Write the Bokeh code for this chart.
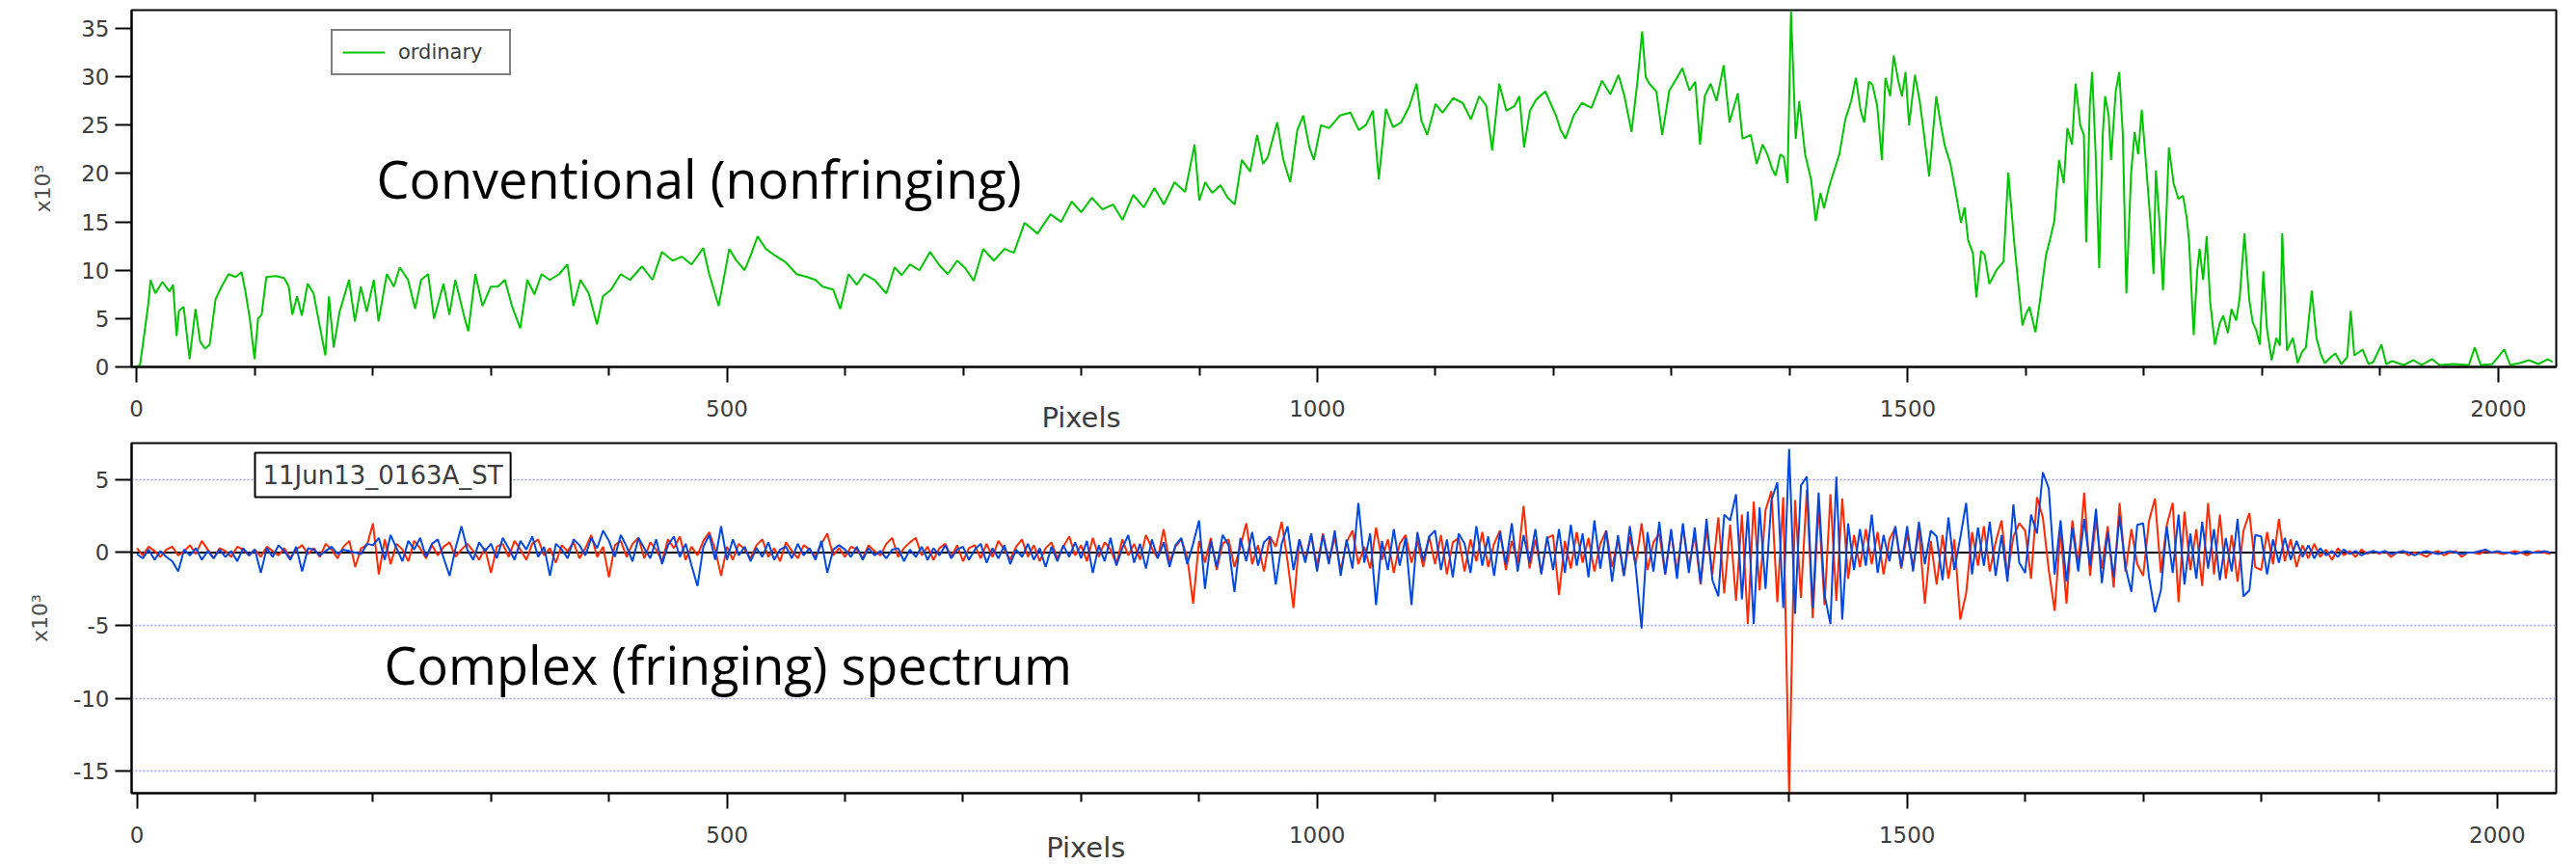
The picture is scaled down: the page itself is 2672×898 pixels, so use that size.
from bokeh.plotting import figure
from bokeh.models import Range1d, FixedTicker, Span, Label, Legend, LegendItem, LinearAxis
from bokeh.layouts import column
from bokeh.embed import file_html
from bokeh.resources import INLINE

# ---------------- data: top panel (ordinary spectrum, x10^3) ----------------
pixels_ordinary = [
    0, 3, 6, 10, 12, 16, 22, 28, 31, 34,
    36, 40, 45, 50, 54, 58, 62, 67, 72, 78,
    84, 89, 92, 96, 100, 103, 106, 110, 118, 125,
    129, 132, 136, 140, 145, 150, 154, 160, 163, 167,
    172, 180, 185, 190, 195, 201, 205, 212, 218, 223,
    230, 236, 241, 247, 252, 260, 265, 270, 278, 281,
    287, 293, 300, 306, 312, 318, 325, 331, 337, 343,
    350, 358, 365, 370, 376, 383, 390, 395, 402, 410,
    418, 428, 437, 445, 454, 462, 470, 480, 485, 493,
    502, 508, 515, 520, 526, 533, 541, 550, 559, 568,
    575, 581, 590, 596, 603, 610, 616, 625, 635, 642,
    648, 655, 663, 672, 680, 687, 695, 702, 709, 717,
    726, 735, 743, 752, 763, 774, 783, 792, 800, 809,
    818, 827, 835, 844, 853, 862, 870, 879, 888, 896,
    900, 905, 911, 918, 924, 930, 936, 943, 949, 954,
    958, 962, 966, 971, 977, 983, 988, 993, 997, 1003,
    1010, 1019, 1028, 1035, 1041, 1047, 1052, 1058, 1064, 1071,
    1078, 1084, 1088, 1093, 1100, 1106, 1115, 1123, 1130, 1137,
    1143, 1148, 1154, 1160, 1167, 1171, 1175, 1180, 1185, 1193,
    1202, 1206, 1210, 1217, 1224, 1232, 1241, 1248, 1255, 1260,
    1266, 1271, 1275, 1278, 1281, 1287, 1292, 1298, 1304, 1309,
    1315, 1320, 1324, 1328, 1333, 1338, 1344, 1349, 1356, 1360,
    1367, 1372, 1377, 1381, 1385, 1388, 1392, 1395, 1398, 1401,
    1405, 1408, 1413, 1418, 1422, 1426, 1429, 1433, 1436, 1442,
    1447, 1452, 1456, 1460, 1463, 1467, 1470, 1474, 1478, 1481,
    1485, 1488, 1492, 1495, 1498, 1501, 1506, 1510, 1513, 1518,
    1524, 1528, 1531, 1536, 1540, 1545, 1548, 1551, 1555, 1558,
    1562, 1565, 1569, 1575, 1581, 1585, 1590, 1594, 1597, 1600,
    1603, 1608, 1612, 1617, 1620, 1624, 1628, 1632, 1635, 1639,
    1642, 1646, 1649, 1651, 1654, 1656, 1659, 1662, 1665, 1667,
    1670, 1672, 1676, 1679, 1682, 1685, 1689, 1692, 1695, 1698,
    1701, 1703, 1706, 1708, 1710, 1713, 1716, 1719, 1721, 1725,
    1729, 1733, 1736, 1738, 1742, 1745, 1747, 1750, 1753, 1756,
    1760, 1764, 1767, 1771, 1774, 1778, 1781, 1785, 1789, 1792,
    1795, 1798, 1801, 1804, 1808, 1812, 1815, 1817, 1821, 1826,
    1830, 1834, 1837, 1842, 1846, 1850, 1853, 1858, 1862, 1867,
    1872, 1875, 1878, 1885, 1890, 1894, 1901, 1905, 1910, 1920,
    1928, 1935, 1944, 1950, 1962, 1975, 1980, 1985, 1995, 2005,
    2010, 2018, 2026, 2034, 2042, 2046,
]
ordinary = [
    0, 0.2, 2.8, 6.5, 9.0, 7.6, 8.8, 7.8, 8.5, 3.2,
    5.8, 6.2, 0.8, 6.0, 2.6, 1.9, 2.3, 7.0, 8.3, 9.6,
    9.3, 9.8, 8.0, 5.0, 0.8, 5.0, 5.4, 9.3, 9.4, 9.2,
    8.3, 5.4, 7.3, 5.3, 8.6, 7.6, 5.0, 1.2, 7.3, 2.0,
    5.7, 9.0, 4.7, 8.3, 5.7, 9.0, 4.7, 9.6, 8.3, 10.3,
    9.0, 6.0, 9.0, 9.6, 5.0, 8.6, 5.4, 9.0, 5.0, 3.7,
    9.6, 6.3, 8.3, 8.3, 9.0, 6.3, 4.0, 9.0, 7.5, 9.6,
    9.0, 9.6, 10.6, 6.3, 9.0, 7.6, 4.4, 7.3, 8.0, 9.6,
    9.0, 10.4, 9.0, 11.9, 11.0, 11.4, 10.6, 12.3, 9.6, 6.3,
    12.2, 11.0, 10.0, 11.5, 13.5, 12.2, 11.5, 10.8, 9.6, 9.3,
    9.0, 8.3, 8.0, 6.0, 9.6, 8.5, 9.6, 9.0, 7.6, 10.3,
    9.5, 10.6, 10.0, 11.9, 10.5, 9.6, 11.0, 10.2, 8.9, 12.2,
    11.0, 12.2, 11.8, 14.9, 13.8, 15.8, 15.0, 17.1, 16.0, 17.5,
    16.3, 16.8, 15.2, 17.8, 16.5, 18.5, 16.8, 19.1, 18.1, 23.0,
    17.2, 19.1, 18.0, 18.8, 17.5, 16.8, 21.4, 20.2, 24.0, 21.0,
    21.7, 23.5, 25.3, 21.5, 19.1, 24.5, 26.0, 22.8, 21.4, 25.0,
    24.7, 26.0, 26.3, 24.5, 25.0, 26.5, 19.4, 26.7, 24.8, 25.3,
    27.0, 29.3, 25.5, 24.0, 27.2, 26.3, 27.8, 27.3, 25.6, 28.0,
    27.0, 22.4, 29.3, 26.5, 27.0, 28.0, 22.7, 26.5, 27.6, 28.5,
    26.0, 24.5, 23.6, 26.0, 27.3, 26.8, 29.6, 28.2, 30.2, 28.0,
    24.3, 29.5, 34.7, 30.0, 29.3, 28.5, 24.0, 28.6, 29.8, 30.9,
    28.6, 29.5, 23.0, 28.0, 29.3, 27.5, 31.2, 25.3, 28.3, 23.6,
    24.0, 21.0, 23.0, 22.0, 20.5, 19.8, 22.0, 21.7, 19.0, 36.8,
    23.6, 27.5, 22.0, 19.4, 15.1, 18.0, 16.4, 18.5, 19.7, 22.0,
    25.6, 27.5, 29.9, 26.5, 25.3, 29.5, 29.2, 27.0, 21.4, 29.9,
    28.0, 32.2, 29.5, 28.0, 30.5, 25.0, 30.2, 27.5, 24.7, 19.7,
    28.0, 25.0, 23.0, 21.0, 18.4, 14.9, 16.5, 13.1, 11.8, 7.2,
    12.0, 11.6, 8.6, 10.0, 10.9, 20.1, 12.9, 8.0, 4.3, 5.5,
    6.2, 3.6, 7.0, 11.6, 13.0, 15.1, 21.4, 19.0, 24.7, 23.0,
    29.3, 25.0, 24.0, 12.9, 27.0, 30.5, 22.0, 10.2, 24.0, 28.0,
    26.0, 21.4, 28.5, 30.5, 24.0, 7.6, 20.0, 24.3, 22.0, 26.6,
    22.0, 18.8, 14.0, 9.6, 20.3, 15.0, 7.9, 16.0, 22.7, 19.0,
    17.4, 17.7, 15.5, 13.2, 3.3, 10.0, 12.2, 9.0, 13.5, 6.7,
    2.3, 4.5, 5.3, 3.5, 6.0, 4.8, 7.2, 13.8, 7.0, 4.6,
    3.8, 2.3, 9.9, 4.0, 0.7, 3.0, 2.2, 13.8, 1.7, 3.0,
    0.4, 1.6, 2.0, 7.9, 3.0, 1.2, 0.4, 1.0, 1.4, 0.3,
    1.0, 5.8, 1.2, 1.8, 0.3, 0.5, 2.3, 0.3, 0.6, 0.2,
    0.7, 0.2, 0.8, 0.2, 0.3, 0.2, 2.0, 0.2, 0.3, 1.8,
    0.2, 0.4, 0.7, 0.3, 0.8, 0.5,
]

# ---------------- data: bottom panel (complex spectrum, x10^3) --------------
pixels_complex = list(range(0, 2050, 5))
real_part = [
    0.3, -0.2, 0.4, 0.1, -0.3, 0.2, 0.4, -0.2, 0.1, 0.5, -0.1, 0.8, 0.2, -0.4, 0.3, 0.1, -0.3, 0.4, 0.2, -0.2,
    0.2, -0.3, 0.4, 0.1, -0.2, 0.3, -0.4, 0.2, 0.5, -0.1, 0.3, -0.3, 0.6, 0.2, -0.4, 0.4, 0.8, -1.0, 0.3, 0.5,
    2.0, -1.5, 0.9, -0.8, 0.6, 0.2, -0.6, 0.8, 0.3, -0.4, 0.5, -0.2, 0.4, 0.7, -0.3, 0.2, 0.6, 0.1, -0.5, 0.3,
    -1.4, 0.4, 0.6, -0.3, 0.8, 0.2, -0.5, 0.6, 0.9, -0.2, 0.3, -0.7, 0.5, 0.1, 0.7, -0.4, 0.3, 1.2, -0.3, 0.4,
    -1.7, 0.5, 0.8, -0.3, 0.6, 1.0, -0.4, 0.7, 0.2, -0.6, 0.9, 0.3, 1.1, -0.5, 0.4, -0.2, 0.8, 1.4, 0.2, -1.6,
    0.4, -0.5, 0.6, 0.2, -0.4, 0.5, 0.9, -0.3, 0.3, -0.6, 0.7, 0.1, -0.4, 0.5, 0.2, -0.3, 0.6, 1.3, -0.2, 0.3,
    -0.3, 0.4, 0.2, -0.4, 0.5, 0.1, -0.2, 0.6, 1.0, -0.3, 0.3, 0.7, 1.0, -0.2, 0.4, -0.5, 0.3, 0.6, -0.3, 0.5,
    -0.6, 0.3, 0.5, -0.4, 0.6, -0.3, 0.8, 0.2, -0.5, 0.4, 0.9, -0.3, 0.5, -0.6, 0.3, 0.7, -0.4, 0.4, 1.1, -0.2,
    0.5, -0.6, 1.0, -0.3, 0.7, 0.2, -0.8, 0.9, -0.2, 0.6, -0.5, 1.2, 0.3, -0.4, 1.6, -0.7, 0.4, 0.9, -0.3, -3.5,
    0.8, -0.7, 1.0, -1.2, 0.6, 0.9, -1.0, 0.4, 2.0, -0.8, 0.5, -1.3, 1.1, 0.4, 2.1, -0.6, -3.8, 0.9, -0.5, 1.2,
    -0.9, 1.3, -0.6, 1.0, -1.2, 0.7, 1.5, -0.8, 0.4, -1.1, 1.7, -0.5, 0.9, -1.4, 0.6, 1.2, -0.7, 0.8, -1.0, 1.1,
    -0.8, 1.2, -1.5, 0.7, 1.0, -1.3, 0.9, -0.6, 1.4, -1.0, 0.6, 1.5, -1.2, 0.8, -0.7, 3.2, -1.1, 0.9, -1.4, 1.0,
    1.2, -2.9, 0.8, -1.1, 1.4, -0.7, 1.0, -1.3, 0.6, 1.5, -1.0, 0.9, -1.6, 1.1, -0.8, 2.0, -1.2, 0.7, 1.3, -1.5,
    1.4, -1.3, 1.8, -1.0, 1.2, -2.2, 1.6, -1.5, 2.4, -2.8, 1.9, -3.3, 2.6, -4.9, 3.5, -2.6, 2.9, 4.2, -3.4, 3.8,
    -16.6, 3.6, -3.1, 4.3, -4.5, 3.2, -3.6, 4.0, -3.3, 3.7, -1.8, 1.2, -1.0, 1.6, -0.8, 1.4, -1.5, 0.9, 1.7, -1.1,
    1.3, -1.0, 1.6, -3.5, 0.8, -2.2, 1.2, -1.8, 0.9, -4.6, -2.8, 1.4, -0.9, 1.8, -1.3, 0.7, 2.2, -1.6, 1.1, 2.0,
    1.5, -1.8, 3.8, 2.4, -1.2, -4.0, 1.6, -3.5, 2.2, -0.9, 4.1, -1.6, 2.3, -1.1, 1.8, -2.4, 3.4, -1.3, 1.6, -0.8,
    -1.6, 2.2, 3.7, -1.4, 1.9, 3.4, -3.4, 2.8, -1.2, 1.6, -2.3, 3.4, -1.5, 2.6, -1.8, 1.2, -2.0, 1.5, 2.7, -1.0,
    -1.2, 1.4, -0.8, 2.3, -0.6, 0.9, -1.0, 0.5, -0.4, 0.6, -0.3, 0.2, -0.5, 0.3, -0.2, 0.1, -0.3, 0.2, -0.1, 0.1,
    -0.1, 0.1, -0.3, 0.0, 0.1, -0.2, 0.0, -0.1, -0.3, 0.0, 0.1, -0.2, 0.0, 0.1, -0.3, 0.0, 0.0, -0.1, 0.1, 0.0,
    0.0, -0.1, 0.0, 0.1, 0.0, -0.2, 0.0, 0.1, 0.0, -0.1,
]
imag_part = [
    -0.1, -0.4, 0.2, -0.5, 0.1, -0.3, -0.6, -1.3, 0.2, -0.2, 0.3, -0.5, 0.1, -0.4, 0.2, -0.3, 0.1, -0.6, 0.3, -0.2,
    0.2, -1.4, 0.3, -0.3, 0.5, 0.1, -0.5, 0.4, -1.3, 0.3, 0.2, -0.2, 0.1, 0.4, -0.1, 0.2, 0.1, 0.0, -0.1, 0.6,
    0.5, 1.0, -0.5, 1.2, 0.3, -0.6, 0.8, 0.2, 1.0, -0.3, 0.6, 0.9, -0.4, -1.6, 0.3, 1.8, 0.2, -0.5, 0.7, 0.1,
    0.6, -0.4, 1.0, 0.3, -0.5, 0.8, 0.2, 1.1, -0.3, 0.4, -1.6, 0.6, 0.2, -0.4, 0.9, 0.5, -0.2, 1.0, 0.3, 1.5,
    0.8, -0.3, 1.2, 0.4, -0.6, 1.0, 0.3, -0.4, 0.9, -0.8, 0.5, 1.1, -0.3, 0.6, -0.9, -2.3, 0.4, 1.2, -0.5, 1.8,
    -0.5, 0.9, -0.2, 0.4, -0.6, 0.3, -0.3, 0.7, -0.5, 0.2, 0.4, -0.4, 0.6, -0.2, 0.3, -0.5, 0.8, -1.4, 0.2, 0.5,
    0.2, -0.3, 0.4, -0.5, 0.3, -0.2, 0.1, -0.4, 0.2, 0.3, -0.6, 0.2, -0.3, 0.4, -0.5, 0.3, -0.2, 0.5, -0.4, 0.2,
    0.4, -0.5, 0.2, 0.6, -0.7, 0.3, -0.4, 0.5, -0.8, 0.2, -0.3, 0.6, -0.5, 0.3, -1.0, 0.4, -0.6, 0.5, -0.3, 0.7,
    -0.4, 0.8, -1.4, 0.5, -0.6, 1.0, -0.9, 0.3, 1.2, -0.7, 0.6, -1.1, 0.9, -0.4, 0.7, -1.0, 0.5, 1.0, -0.8, 0.6,
    2.2, -2.5, 0.8, -1.0, 1.2, 0.5, -2.7, 1.0, -0.6, 1.4, -0.9, 0.7, 1.1, -2.2, 0.6, 1.8, -1.2, 0.9, -0.7, 1.3,
    -1.3, 1.2, -0.8, 1.5, -1.6, 0.9, -1.1, 3.4, -0.7, 1.3, -3.6, 0.8, -1.2, 1.6, -0.9, 1.0, -3.6, 1.4, -0.6, 1.1,
    1.5, -1.2, 0.9, -1.7, 1.3, 0.6, -1.4, 1.8, -0.9, 1.1, -1.6, 1.4, -0.8, 2.0, -1.3, 1.2, -0.7, 1.6, -1.5, 1.1,
    -1.2, 1.6, -1.4, 1.9, -0.9, 1.3, -1.7, 2.2, -1.1, 1.5, -2.0, 1.2, -1.6, 1.8, -1.0, -5.2, 1.4, -1.3, 2.1, -1.5,
    1.6, -1.8, 2.0, -1.4, 1.7, -2.1, 2.3, -1.9, -3.0, 2.6, 2.2, 4.0, -3.2, 2.8, -4.9, 3.1, -2.5, 3.6, 4.8, -3.8,
    7.1, -4.2, 4.6, 5.2, -3.8, 4.1, -2.9, -4.9, 5.2, -4.6, 2.0, -1.2, 1.6, -0.9, 2.6, -1.4, 1.2, -0.6, 1.8, -1.0,
    1.8, -1.3, 2.1, -0.8, 1.5, 1.1, -1.9, 2.4, -1.2, 1.0, 3.4, -1.5, 1.7, -0.9, 2.1, -1.6, 1.2, -2.0, 3.3, -0.7,
    -1.4, 2.6, 1.3, 5.5, 4.4, -1.5, 2.2, -2.0, 1.7, -1.3, 2.3, -0.9, 3.0, -2.1, 1.4, -1.7, 2.5, -1.0, -2.7, 1.9,
    2.0, -1.7, -4.1, -2.6, 1.8, -1.4, 2.6, -2.2, 1.3, -1.8, 2.1, -1.1, 1.6, -1.9, 1.0, -1.3, 2.3, -3.0, -2.6, 1.2,
    1.1, -1.5, 0.9, -0.7, 1.0, -0.5, 0.8, -0.3, 0.5, -0.4, 0.3, -0.2, 0.1, -0.3, 0.2, -0.1, 0.1, -0.2, 0.0, 0.1,
    0.0, 0.1, -0.1, 0.0, 0.1, 0.0, -0.2, 0.0, 0.1, 0.0, -0.1, 0.0, 0.1, 0.0, -0.1, 0.0, 0.0, 0.1, 0.2, 0.0,
    0.1, 0.0, 0.0, -0.1, 0.0, 0.1, 0.0, 0.0, 0.1, 0.0,
]

x_major_ticks = [0, 500, 1000, 1500, 2000]
x_minor_ticks = [100, 200, 300, 400, 600, 700, 800, 900, 1100, 1200, 1300, 1400,
                 1600, 1700, 1800, 1900, 2100]
top_y_ticks = [0, 5, 10, 15, 20, 25, 30, 35]
bottom_y_ticks = [-15, -10, -5, 0, 5]
bottom_y_labels = {-15: "-15", -10: "-10", -5: "-5"}
top_title_tick = 800
bottom_title_tick = 804

assert len(pixels_ordinary) == len(ordinary)
assert len(pixels_complex) == len(real_part) == len(imag_part)

TICK_FONT = "DejaVu Sans"
BIG_FONT = "Open Sans"
GRAY = "#3c3c3c"


def style(p, yticks, ylabel, ylabel_standoff, title_tick, title_standoff):
    p.outline_line_color = "black"
    p.outline_line_width = 2
    p.xgrid.visible = False
    xa = p.xaxis[0]
    ya = p.yaxis[0]
    xa.ticker = FixedTicker(ticks=x_major_ticks, minor_ticks=x_minor_ticks)
    ya.ticker = FixedTicker(ticks=yticks, minor_ticks=[])
    for ax in (xa, ya):
        ax.axis_line_color = "black"
        ax.axis_line_width = 2
        ax.major_tick_line_color = "black"
        ax.major_tick_line_width = 2
        ax.minor_tick_line_color = "black"
        ax.minor_tick_line_width = 2
        ax.major_tick_in = 0
        ax.minor_tick_in = 0
        ax.major_label_text_font = TICK_FONT
        ax.major_label_text_font_size = "23px"
        ax.major_label_text_color = GRAY
    xa.major_tick_out = 16
    xa.minor_tick_out = 9
    xa.major_label_standoff = 18
    ya.major_tick_out = 17
    ya.minor_tick_out = 0
    ya.major_label_standoff = 6
    ya.axis_label = ylabel
    ya.axis_label_text_font = TICK_FONT
    ya.axis_label_text_font_size = "22px"
    ya.axis_label_text_font_style = "normal"
    ya.axis_label_text_color = "#505050"
    ya.axis_label_standoff = ylabel_standoff
    # "Pixels" title, written as the single label of a bare secondary axis
    title_axis = LinearAxis(ticker=FixedTicker(ticks=[title_tick], minor_ticks=[]),
                            major_label_overrides={title_tick: "Pixels"},
                            axis_line_color=None, major_tick_line_color=None,
                            minor_tick_line_color=None, major_tick_out=0, minor_tick_out=0,
                            major_tick_in=0, minor_tick_in=0,
                            major_label_standoff=title_standoff,
                            major_label_text_font=TICK_FONT,
                            major_label_text_font_size="29px",
                            major_label_text_color=GRAY)
    p.add_layout(title_axis, "below")


# ---------------- top panel ----------------
p1 = figure(width=2672, height=452, output_backend="svg", toolbar_location=None,
            x_range=Range1d(-4.1, 2049), y_range=Range1d(0, 36.9),
            min_border_left=136, min_border_right=21, min_border_top=10, min_border_bottom=68)
style(p1, top_y_ticks, "x10\u00b3", 24, top_title_tick, -19)
p1.ygrid.visible = False
g = p1.line(pixels_ordinary, ordinary, line_color="#00c400", line_width=2)

legend = Legend(items=[LegendItem(label="ordinary", renderers=[g])], location=(207, 302),
                orientation="vertical", padding=10, spacing=0, margin=0,
                glyph_width=44, glyph_height=20, label_standoff=14, label_width=105,
                label_text_font=TICK_FONT, label_text_font_size="21px", label_text_color=GRAY,
                border_line_color="black", border_line_width=2, background_fill_alpha=1)
p1.add_layout(legend)

p1.add_layout(Label(x=254, y=196, x_units="screen", y_units="screen",
                    text="Conventional (nonfringing)", text_font=BIG_FONT,
                    text_font_size="54px", text_color="black",
                    text_align="left", text_baseline="alphabetic"))

# ---------------- bottom panel ----------------
p2 = figure(width=2672, height=446, output_backend="svg", toolbar_location=None,
            x_range=Range1d(-4.5, 2050), y_range=Range1d(-16.5, 7.5),
            min_border_left=129, min_border_right=10, min_border_top=7, min_border_bottom=73)
style(p2, bottom_y_ticks, "x10\u00b3", 19, bottom_title_tick, -15)
p2.yaxis[0].major_label_overrides = bottom_y_labels
p2.ygrid.grid_line_color = "#9c9cff"
p2.ygrid.grid_line_dash = "2 2"
p2.ygrid.grid_line_width = 1.5
p2.add_layout(Span(location=0, dimension="width", line_color="black", line_width=2,
                   level="underlay"))
p2.line(pixels_complex, real_part, line_color="#ff2a00", line_width=2)
p2.line(pixels_complex, imag_part, line_color="#0048e0", line_width=2)

p2.add_layout(Label(x=128, y=330, x_units="screen", y_units="screen",
                    text="11Jun13_0163A_ST", text_font=TICK_FONT, text_font_size="26px",
                    text_color=GRAY, text_align="left", text_baseline="middle",
                    padding=8, border_line_color="black", border_line_width=2,
                    background_fill_color="white"))
p2.add_layout(Label(x=262, y=134, x_units="screen", y_units="screen",
                    text="Complex (fringing) spectrum", text_font=BIG_FONT,
                    text_font_size="54px", text_color="black",
                    text_align="left", text_baseline="alphabetic"))

layout = column(p1, p2, spacing=0)
open("out.html", "w").write(file_html(layout, INLINE))
